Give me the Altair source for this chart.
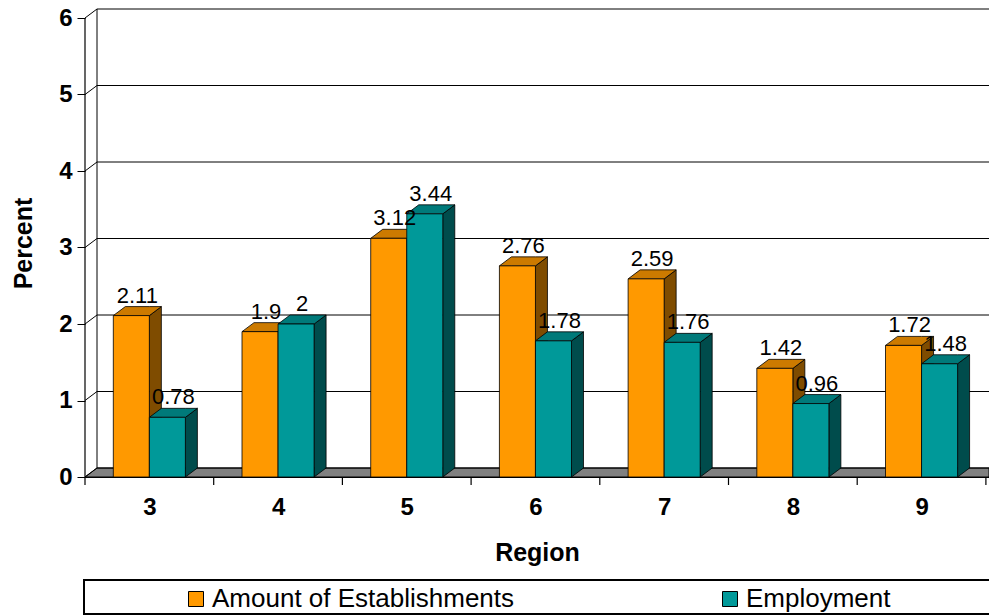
import altair as alt
import pandas as pd

# ---------------- data ----------------
regions = ["3", "4", "5", "6", "7", "8", "9"]
establishments = [2.11, 1.9, 3.12, 2.76, 2.59, 1.42, 1.72]
employment = [0.78, 2.0, 3.44, 1.78, 1.76, 0.96, 1.48]
series_names = ["Amount of Establishments", "Employment"]
y_ticks = [0, 1, 2, 3, 4, 5, 6]

front_colors = ["#FF9900", "#009999"]
top_colors = ["#CC7A00", "#007A7A"]
side_colors = ["#7F4C00", "#004C4C"]

FONT = "Liberation Sans"

# ---------------- geometry (pixel -> data units) ----------------
W, H = 904, 468
PX_PER_CAT = 128.7
PX_PER_UNIT = 76.5
X_MAX = W / PX_PER_CAT
DX = 12 / PX_PER_CAT
DY = 9 / PX_PER_UNIT
Y_MAX = 6 + DY
BAR_W = 0.28
GROUP_L = 0.22

series_values = [establishments, employment]

front_rows, side_rows, top_rows, label_rows = [], [], [], []
for s, (name, vals) in enumerate(zip(series_names, series_values)):
    for i, (reg, v) in enumerate(zip(regions, vals)):
        xl = i + GROUP_L + s * BAR_W
        xr = xl + BAR_W
        key = f"{s}-{reg}"
        front_rows.append(dict(series=name, x0=xl, x1=xr, v=v))
        side_rows += [
            dict(key=key, x=xr, y=0.0, y2=v, c=side_colors[s]),
            dict(key=key, x=xr + DX, y=DY, y2=v + DY, c=side_colors[s]),
        ]
        top_rows += [
            dict(key=key, x=xl, y=v, y2=v, c=top_colors[s]),
            dict(key=key, x=xl + DX, y=v, y2=v + DY, c=top_colors[s]),
            dict(key=key, x=xr, y=v, y2=v + DY, c=top_colors[s]),
            dict(key=key, x=xr + DX, y=v + DY, y2=v + DY, c=top_colors[s]),
        ]
        label_rows.append(dict(x=(xl + xr) / 2 + DX / 2, y=v + DY,
                               txt=f"{v:g}"))

front_df = pd.DataFrame(front_rows)
side_df = pd.DataFrame(side_rows)
top_df = pd.DataFrame(top_rows)
label_df = pd.DataFrame(label_rows)

floor_df = pd.DataFrame([
    dict(x=0.0, y=0.0, y2=0.0),
    dict(x=DX, y=0.0, y2=DY),
    dict(x=X_MAX, y=0.0, y2=DY),
])
grid_df = pd.DataFrame(dict(k=y_ticks, kb=[k + DY for k in y_ticks],
                            x0=[DX] * len(y_ticks), x1=[X_MAX] * len(y_ticks),
                            f0=[0.0] * len(y_ticks)))
bound_df = pd.DataFrame(dict(b=list(range(len(regions) + 1))))
centers = [i + 0.5 for i in range(len(regions))]

xs = alt.Scale(domain=[0, X_MAX], nice=False, zero=False)
ys = alt.Scale(domain=[0, Y_MAX], nice=False, zero=False)

label_expr = "[" + ",".join(f"'{r}'" for r in regions) + "][floor(datum.value)]"

xa = alt.Axis(
    values=centers, labelExpr=label_expr, ticks=False, grid=False,
    domain=True, domainColor="black", domainWidth=1.2,
    labelFont=FONT, labelFontSize=24, labelFontWeight="bold", labelColor="black",
    labelPadding=18, title="Region", titleFont=FONT, titleFontSize=25,
    titleFontWeight="bold", titleColor="black", titlePadding=21)
ya = alt.Axis(
    values=y_ticks, grid=False, domain=False, ticks=True, tickSize=8,
    tickColor="black", tickWidth=1, labelFont=FONT, labelFontSize=24,
    labelFontWeight="bold", labelColor="black", labelPadding=5,
    title="Percent", titleFont=FONT, titleFontSize=25, titleFontWeight="bold",
    titleColor="black", titleX=-54, titleY=234, titleAngle=-90,
    titleAlign="center", titleBaseline="alphabetic")


def X(f):
    return alt.X(f, scale=xs, axis=xa, title="Region")


def Y(f):
    return alt.Y(f, scale=ys, axis=ya, title="Percent")


# ---------------- layers ----------------
floor = alt.Chart(floor_df).mark_area(
    color="#808080", stroke="black", strokeWidth=1, interpolate="linear"
).encode(x=X("x:Q"), y=Y("y:Q"), y2="y2:Q")

grid = alt.Chart(grid_df).mark_rule(color="black", strokeWidth=1).encode(
    x=X("x0:Q"), x2="x1:Q", y=Y("kb:Q"),
)
diag = alt.Chart(grid_df).mark_rule(color="black", strokeWidth=1).encode(
    x=X("f0:Q"), x2="x0:Q", y=Y("k:Q"), y2="kb:Q",
)
back_wall = alt.Chart(grid_df).mark_rule(color="black", strokeWidth=1).encode(
    x=X("min(x0):Q"), y=Y("min(kb):Q"), y2="max(kb):Q",
)
front_axis = alt.Chart(grid_df).mark_rule(color="black", strokeWidth=1.2).encode(
    x=X("min(f0):Q"), y=Y("min(k):Q"), y2="max(k):Q",
)

sides = alt.Chart(side_df).mark_area(stroke="black", strokeWidth=0.8,
                                     interpolate="linear").encode(
    x=X("x:Q"), y=Y("y:Q"), y2="y2:Q",
    detail="key:N", color=alt.Color("c:N", scale=None),
)
tops = alt.Chart(top_df).mark_area(stroke="black", strokeWidth=0.8,
                                   interpolate="linear").encode(
    x=X("x:Q"), y=Y("y:Q"), y2="y2:Q",
    detail="key:N", color=alt.Color("c:N", scale=None),
)
fronts = alt.Chart(front_df).mark_rect(stroke="black", strokeWidth=0.8).encode(
    x=X("x0:Q"), x2="x1:Q",
    y=Y("v:Q"), y2=alt.datum(0),
    color=alt.Color("series:N", scale=alt.Scale(domain=series_names, range=front_colors),
                    legend=alt.Legend(
                        orient="none", legendX=98, legendY=577, direction="horizontal",
                        title=None, symbolType="square", symbolSize=225,
                        symbolStrokeColor="black", symbolStrokeWidth=1,
                        labelFont=FONT, labelFontSize=26, labelColor="black",
                        labelOffset=3, columnPadding=202, padding=0,
                        labelLimit=500)),
)
labels = alt.Chart(label_df).mark_text(
    font=FONT, fontSize=22, color="black", baseline="alphabetic", dy=-4
).encode(x=X("x:Q"), y=Y("y:Q"), text="txt:N")

xticks = alt.Chart(bound_df).mark_rule(color="black", strokeWidth=1.2).encode(
    x=X("b:Q"), y=alt.value(H), y2=alt.value(H + 8),
)
legend_box = alt.Chart(bound_df).mark_rect(
    fillOpacity=0, stroke="black", strokeWidth=1.5
).encode(
    x=alt.value(-1), x2=alt.value(W + 6), y=alt.value(571), y2=alt.value(605),
)

chart = alt.layer(
    floor, grid, diag, back_wall, front_axis, sides, tops, fronts, labels,
    xticks, legend_box
).properties(
    width=W, height=H,
    autosize=alt.AutoSizeParams(type="none"),
    padding={"left": 85, "top": 9, "right": 0, "bottom": 138},
    background="white",
).configure_view(stroke=None)

chart.save("out.html", embed_options={"renderer": "svg", "actions": False})
